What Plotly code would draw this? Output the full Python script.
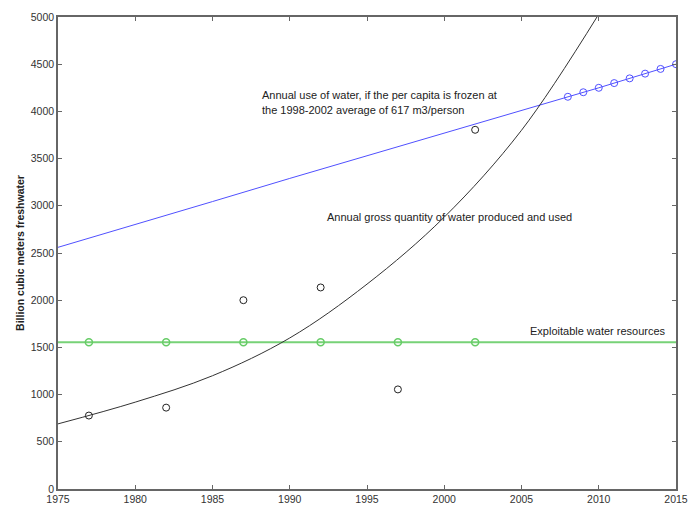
import plotly.graph_objects as go

# Fitted curve of annual gross water use
curve_years = [1975, 1980, 1985, 1990, 1995, 2000, 2005, 2010]
curve_values = [690, 920, 1200, 1600, 2170, 2880, 3800, 5030]

# Observed annual gross use
obs_years = [1977, 1982, 1987, 1992, 1997, 2002]
obs_values = [778, 862, 2000, 2135, 1055, 3805]

# Exploitable water resources
green_years = [1975, 2015]
green_values = [1555, 1555]
green_pts_years = [1977, 1982, 1987, 1992, 1997, 2002]
green_pts_values = [1555, 1555, 1555, 1555, 1555, 1555]

# Frozen per-capita use line
blue_years = [1975, 1980, 1985, 1990, 1995, 2000, 2005, 2010, 2015]
blue_values = [2560, 2800, 3045, 3290, 3530, 3770, 4010, 4250, 4500]
blue_pts_years = [2008, 2009, 2010, 2011, 2012, 2013, 2014, 2015]
blue_pts_values = [4155, 4203, 4250, 4300, 4350, 4400, 4450, 4500]

x_ticks = [1975, 1980, 1985, 1990, 1995, 2000, 2005, 2010, 2015]
y_ticks = [0, 500, 1000, 1500, 2000, 2500, 3000, 3500, 4000, 4500, 5000]

fig = go.Figure()
fig.add_trace(go.Scatter(x=green_years, y=green_values, mode="lines",
                         line=dict(color="#77d277", width=2), showlegend=False))
fig.add_trace(go.Scatter(x=green_pts_years, y=green_pts_values, mode="markers",
                         marker=dict(symbol="circle-open", size=7, color="#66cc66",
                                     line=dict(width=1.5)), showlegend=False))
fig.add_trace(go.Scatter(x=blue_years, y=blue_values, mode="lines",
                         line=dict(color="#5050ff", width=1), showlegend=False))
fig.add_trace(go.Scatter(x=blue_pts_years, y=blue_pts_values, mode="markers",
                         marker=dict(symbol="circle-open", size=7, color="#5050ff",
                                     line=dict(width=1)), showlegend=False))
fig.add_trace(go.Scatter(x=curve_years, y=curve_values, mode="lines",
                         line=dict(color="#333333", width=1, shape="spline"),
                         showlegend=False))
fig.add_trace(go.Scatter(x=obs_years, y=obs_values, mode="markers",
                         marker=dict(symbol="circle-open", size=7, color="#222222",
                                     line=dict(width=1)), showlegend=False))

font = dict(family="Liberation Sans, Arial, sans-serif", size=11, color="#222222")
ann = [
    dict(x=1988.1, y=4174, text="Annual use of water, if the per capita is frozen at"),
    dict(x=1988.1, y=4015, text="the 1998-2002 average of 617 m3/person"),
    dict(x=1992.3, y=2881, text="Annual gross quantity of water produced and used"),
]
annotations = [dict(a, xref="x", yref="y", xanchor="left", yanchor="middle",
                    showarrow=False, font=font) for a in ann]
annotations.append(dict(x=2014.5, y=1674, xref="x", yref="y", xanchor="right",
                        yanchor="middle", showarrow=False, font=font,
                        text="Exploitable water resources"))

axis_common = dict(showline=True, linecolor="#666666", linewidth=1.5, mirror="ticks",
                   ticks="inside", ticklen=4, tickcolor="#666666", showgrid=False,
                   zeroline=False, automargin=False, ticklabeloverflow="allow",
                   tickfont=dict(family="Liberation Sans, Arial, sans-serif",
                                 size=10.5, color="#333333"))

fig.update_layout(
    width=689, height=505,
    margin=dict(l=58, r=13, t=17, b=16),
    paper_bgcolor="white", plot_bgcolor="white",
    annotations=annotations,
    xaxis=dict(range=[1975, 2015], tickvals=x_ticks, **axis_common),
    yaxis=dict(range=[0, 5000], tickvals=y_ticks,
               title=dict(text="<b>Billion cubic meters freshwater</b>", standoff=4,
                          font=dict(family="Liberation Sans, Arial, sans-serif",
                                    size=10.5, color="#222222")),
               **axis_common),
)

# Remove the default page margin so the figure fills the window exactly.
fig.write_html(
    "out.html",
    config={"displayModeBar": False},
    post_script="document.body.style.margin='0';document.body.style.overflow='hidden';",
)
